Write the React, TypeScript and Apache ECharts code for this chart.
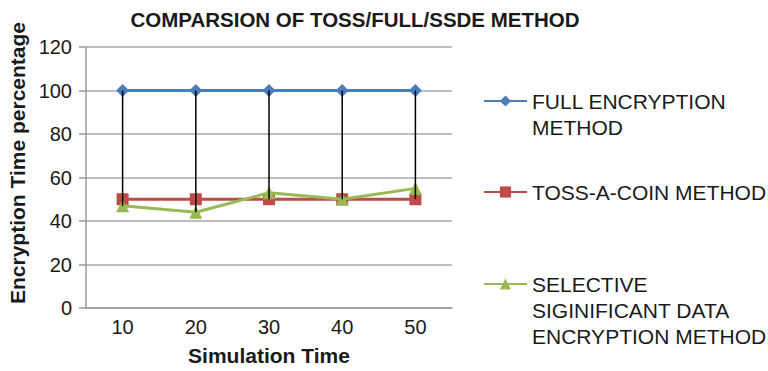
import React, { useEffect, useRef } from "react";
import * as echarts from "echarts";

const categories = ["10", "20", "30", "40", "50"];
const fullEncryption = [100, 100, 100, 100, 100];
const tossACoin = [50, 50, 50, 50, 50];
const ssde = [47, 44, 53, 50, 55];
const yTicks = { min: 0, max: 120, interval: 20 };

const FONT = "'Liberation Sans', Arial, Helvetica, sans-serif";
const NAME_FULL = "FULL ENCRYPTION METHOD";
const NAME_TOSS = "TOSS-A-COIN METHOD";
const NAME_SSDE = "SELECTIVE SIGINIFICANT DATA ENCRYPTION METHOD";

export default function App() {
  const ref = useRef<HTMLDivElement>(null);
  useEffect(() => {
    if (!ref.current) return;
    const chart = echarts.init(ref.current, null, { renderer: "svg" });
    const hiLo = categories.map((_, i) => {
      const vals = [fullEncryption[i], tossACoin[i], ssde[i]];
      return [i, Math.max(...vals), Math.min(...vals)];
    });
    const legendBase = {
      orient: "vertical",
      left: 483,
      padding: 0,
      itemWidth: 43,
      itemHeight: 14,
      textStyle: { fontSize: 21, lineHeight: 26, color: "#1a1a1a", fontFamily: FONT },
    };
    chart.setOption({
      animation: false,
      backgroundColor: "#ffffff",
      textStyle: { fontFamily: FONT },
      graphic: [
        {
          type: "text",
          x: 355,
          y: 19,
          style: {
            text: "COMPARSION OF TOSS/FULL/SSDE METHOD",
            align: "center",
            verticalAlign: "middle",
            font: `bold 20.5px ${FONT}`,
            fill: "#1a1a1a",
          },
        },
        {
          type: "text",
          x: 17,
          y: 163,
          rotation: Math.PI / 2,
          style: {
            text: "Encryption Time percentage",
            align: "center",
            verticalAlign: "middle",
            font: `bold 21px ${FONT}`,
            fill: "#1a1a1a",
          },
        },
      ],
      legend: [
        {
          ...legendBase,
          top: 62,
          data: [NAME_FULL],
          formatter: () => "\nFULL ENCRYPTION\nMETHOD",
        },
        {
          ...legendBase,
          top: 179,
          data: [NAME_TOSS],
          formatter: () => "TOSS-A-COIN METHOD",
        },
        {
          ...legendBase,
          top: 219,
          data: [NAME_SSDE],
          formatter: () => "\n\nSELECTIVE\nSIGINIFICANT DATA\nENCRYPTION METHOD",
        },
      ],
      grid: { left: 86, right: 316, top: 47, bottom: 56, containLabel: false },
      xAxis: {
        type: "category",
        data: categories,
        boundaryGap: true,
        axisLine: { lineStyle: { color: "#9a9a9a", width: 1.5 } },
        axisTick: { show: false },
        axisLabel: { fontSize: 20, color: "#1a1a1a", margin: 9, fontFamily: FONT },
        name: "Simulation Time",
        nameLocation: "middle",
        nameGap: 37,
        nameTextStyle: { fontSize: 21, fontWeight: "bold", color: "#1a1a1a", fontFamily: FONT },
      },
      yAxis: {
        type: "value",
        min: yTicks.min,
        max: yTicks.max,
        interval: yTicks.interval,
        axisLine: { show: true, lineStyle: { color: "#9a9a9a", width: 1.5 } },
        axisTick: { show: true, length: 7, lineStyle: { color: "#9a9a9a", width: 1.5 } },
        axisLabel: { fontSize: 20, color: "#1a1a1a", margin: 14, fontFamily: FONT },
        splitLine: { lineStyle: { color: "#a8a8a8", width: 1.5 } },
      },
      series: [
        {
          name: NAME_FULL,
          type: "line",
          data: fullEncryption,
          symbol: "diamond",
          symbolSize: 13,
          lineStyle: { color: "#4a7ebb", width: 3 },
          itemStyle: { color: "#4a7ebb" },
          z: 2,
        },
        {
          name: NAME_TOSS,
          type: "line",
          data: tossACoin,
          symbol: "rect",
          symbolSize: 12,
          lineStyle: { color: "#be4b48", width: 3 },
          itemStyle: { color: "#be4b48" },
          z: 2,
        },
        {
          name: NAME_SSDE,
          type: "line",
          data: ssde,
          symbol: "triangle",
          symbolSize: 13,
          lineStyle: { color: "#98b954", width: 3 },
          itemStyle: { color: "#98b954" },
          z: 3,
        },
        {
          name: "high-low",
          type: "custom",
          data: hiLo,
          encode: { x: 0, y: [1, 2] },
          z: 4,
          renderItem: (params: any, api: any) => {
            const top = api.coord([api.value(0), api.value(1)]);
            const bot = api.coord([api.value(0), api.value(2)]);
            return {
              type: "line",
              shape: { x1: top[0], y1: top[1], x2: bot[0], y2: bot[1] },
              style: { stroke: "#000000", lineWidth: 1.5 },
            };
          },
        },
      ],
    });
    return () => chart.dispose();
  }, []);
  return <div ref={ref} style={{ width: 768, height: 371, position: "absolute", left: 0, top: 0 }} />;
}
